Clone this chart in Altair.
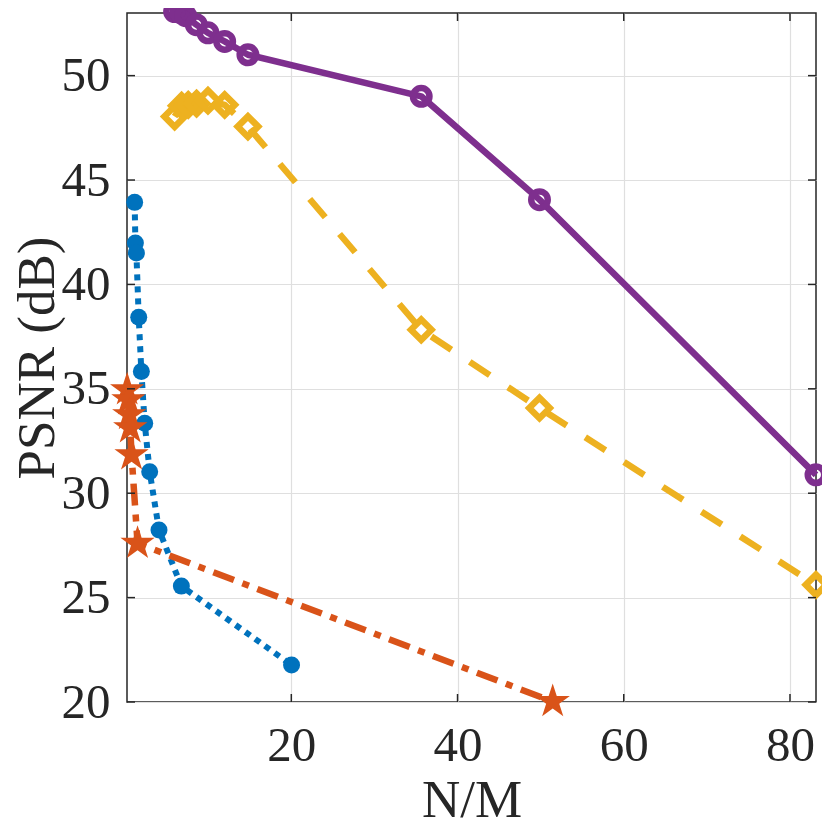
import altair as alt
import pandas as pd

x_ticks = [20, 40, 60, 80]
y_ticks = [20, 25, 30, 35, 40, 45, 50]

purple_x = [5.96, 6.69, 7.29, 8.57, 9.97, 11.98, 14.78, 35.63, 49.86, 83.13]
purple_y = [53.07, 53.02, 52.87, 52.44, 52.05, 51.64, 51.0, 49.01, 44.06, 30.88]

yellow_x = [5.96, 6.8, 7.6, 8.6, 9.97, 11.98, 14.78, 35.63, 49.86, 83.13]
yellow_y = [48.04, 48.56, 48.6, 48.66, 48.8, 48.6, 47.56, 37.83, 34.08, 25.61]

blue_x = [1.15, 1.24, 1.36, 1.64, 1.96, 2.36, 2.96, 4.08, 6.77, 20.03]
blue_y = [43.93, 41.98, 41.5, 38.43, 35.83, 33.35, 31.03, 28.24, 25.55, 21.77]

orange_x = [0.25, 0.4, 0.5, 0.62, 0.78, 1.5, 51.45]
orange_y = [34.95, 34.47, 33.76, 33.13, 31.84, 27.6, 20.02]

FONT = "Times New Roman, Liberation Serif, Times, serif"
TXT = "#262626"
W = H = 689

STAR = ("M0,-1 L0.2245,-0.309 L0.951,-0.309 L0.363,0.118 L0.588,0.809 "
        "L0,0.382 L-0.588,0.809 L-0.363,0.118 L-0.951,-0.309 L-0.2245,-0.309 Z")


def frame(xs, ys):
    return pd.DataFrame({"x": xs, "y": ys, "i": list(range(len(xs)))})


xscale = alt.Scale(domain=[0.23, 83.13], nice=False, zero=False)
yscale = alt.Scale(domain=[20, 53.0], nice=False, zero=False)

xaxis = alt.Axis(values=x_ticks, title="N/M", grid=True, gridColor="#dfdfdf", gridWidth=1.2,
                 domain=False, ticks=False, tickSize=0, labelFont=FONT, labelFontSize=49,
                 labelColor=TXT, labelPadding=19, labelFlush=False, labelOverlap=False,
                 titleFont=FONT, titleFontSize=53, titleFontWeight="normal", titleColor=TXT,
                 titleBaseline="alphabetic", titleY=114)
yaxis = alt.Axis(values=y_ticks, title="PSNR (dB)", grid=True, gridColor="#dfdfdf", gridWidth=1.2,
                 domain=False, ticks=False, tickSize=0, labelFont=FONT, labelFontSize=49,
                 labelColor=TXT, labelPadding=17, labelFlush=False, labelOverlap=False,
                 titleFont=FONT, titleFontSize=53, titleFontWeight="normal", titleColor=TXT,
                 titleBaseline="middle", titleX=-90)

X = alt.X("x:Q", scale=xscale, axis=xaxis)
Y = alt.Y("y:Q", scale=yscale, axis=yaxis)


def series(xs, ys, color, dash, shape, size, filled, sw):
    d = frame(xs, ys)
    line_kw = dict(color=color, strokeWidth=sw, strokeCap="butt", strokeJoin="round")
    if dash:
        line_kw["strokeDash"] = dash
    line = alt.Chart(d).mark_line(**line_kw).encode(x=X, y=Y, order="i:Q")
    if filled:
        pt = alt.Chart(d).mark_point(shape=shape, size=size, filled=True, fill=color,
                                     color=color, opacity=1, strokeWidth=0)
    else:
        pt = alt.Chart(d).mark_point(shape=shape, size=size, filled=False, color=color,
                                     opacity=1, strokeWidth=sw, fill="white", fillOpacity=0)
    pts = pt.encode(x=X, y=Y)
    return [line, pts]


layers = []
layers += series(blue_x, blue_y, "#0072BD", [6, 6], "circle", 289, True, 6)
layers += series(orange_x, orange_y, "#D95319", [22, 9, 7, 9], STAR, 1300, True, 6.5)
layers += series(yellow_x, yellow_y, "#EDB120", [24, 22], "diamond", 420, False, 6.5)
layers += series(purple_x, purple_y, "#7E2F8E", None, "circle", 272, False, 6.5)

xt = pd.DataFrame({"x": x_ticks})
yt = pd.DataFrame({"y": y_ticks})
tick_kw = dict(color=TXT, strokeWidth=1.5)
TL = 8
layers += [
    alt.Chart(xt).mark_rule(**tick_kw).encode(x=X, y=alt.value(H), y2=alt.value(H - TL)),
    alt.Chart(xt).mark_rule(**tick_kw).encode(x=X, y=alt.value(0), y2=alt.value(TL)),
    alt.Chart(yt).mark_rule(**tick_kw).encode(y=Y, x=alt.value(0), x2=alt.value(TL)),
    alt.Chart(yt).mark_rule(**tick_kw).encode(y=Y, x=alt.value(W), x2=alt.value(W - TL)),
]

chart = alt.layer(*layers).properties(
    width=W, height=H,
    autosize=alt.AutoSizeParams(type="none"),
    padding={"left": 119, "top": 5, "right": 6, "bottom": 126},
    background="white",
).configure_view(stroke=TXT, strokeWidth=1.5)

chart.save("out.html", embed_options={"renderer": "svg", "actions": False})
